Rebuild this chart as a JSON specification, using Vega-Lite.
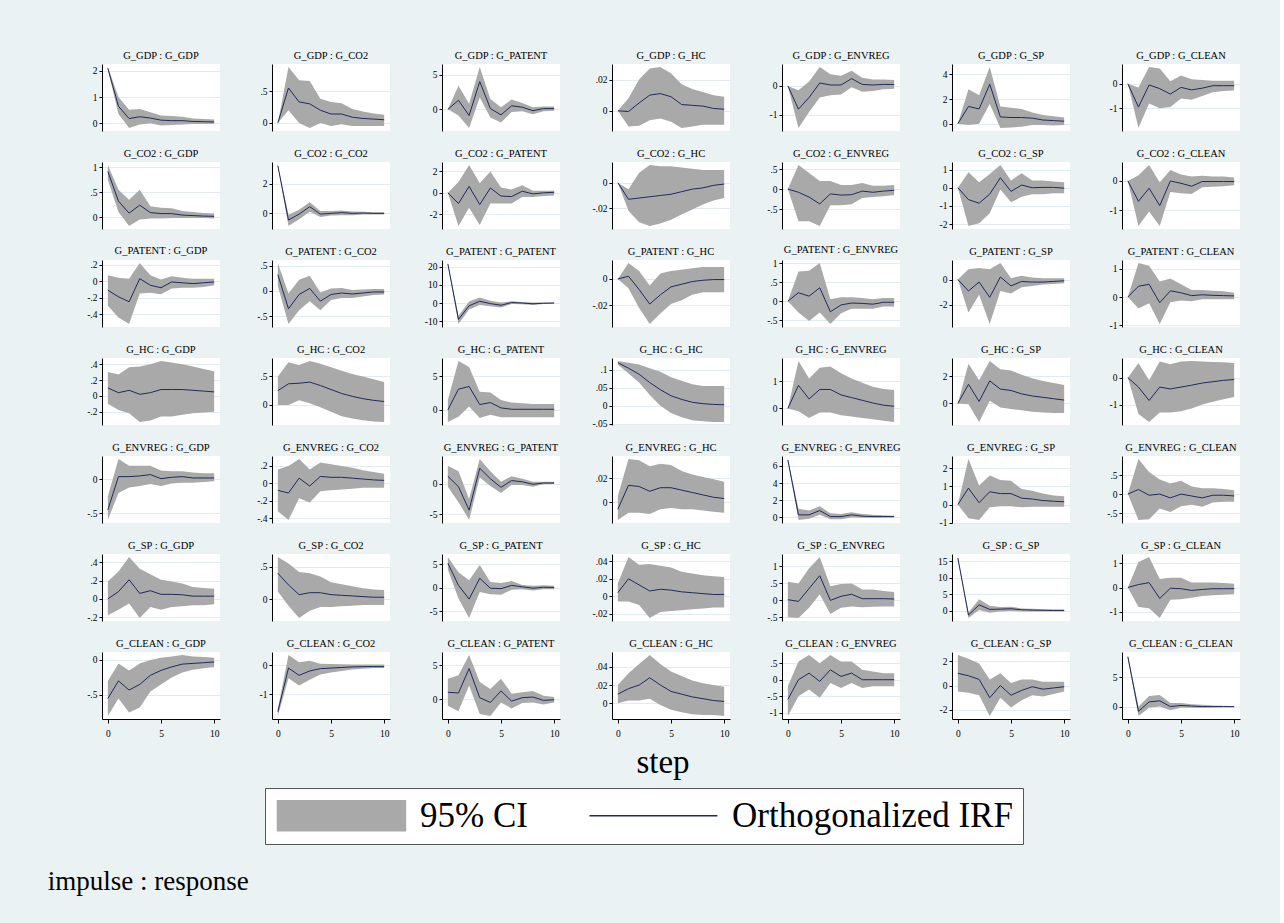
{
"$schema": "https://vega.github.io/schema/vega-lite/v6.json",
"background": "#eaf2f3",
"padding": {"left": 47, "top": 50, "right": 40, "bottom": 35},
"bounds": "flush",
"data": {"values": [
{"panel":"G_GDP : G_GDP","step":0,"irf":2.1,"lo":2.05,"hi":2.15},
{"panel":"G_GDP : G_GDP","step":1,"irf":0.65,"lo":0.35,"hi":1.0},
{"panel":"G_GDP : G_GDP","step":2,"irf":0.18,"lo":-0.18,"hi":0.52},
{"panel":"G_GDP : G_GDP","step":3,"irf":0.25,"lo":-0.05,"hi":0.55},
{"panel":"G_GDP : G_GDP","step":4,"irf":0.2,"lo":0.0,"hi":0.42},
{"panel":"G_GDP : G_GDP","step":5,"irf":0.12,"lo":-0.08,"hi":0.3},
{"panel":"G_GDP : G_GDP","step":6,"irf":0.1,"lo":-0.07,"hi":0.28},
{"panel":"G_GDP : G_GDP","step":7,"irf":0.1,"lo":-0.05,"hi":0.25},
{"panel":"G_GDP : G_GDP","step":8,"irf":0.07,"lo":-0.03,"hi":0.18},
{"panel":"G_GDP : G_GDP","step":9,"irf":0.06,"lo":-0.03,"hi":0.16},
{"panel":"G_GDP : G_GDP","step":10,"irf":0.05,"lo":-0.02,"hi":0.14},
{"panel":"G_GDP : G_CO2","step":0,"irf":0,"lo":0,"hi":0},
{"panel":"G_GDP : G_CO2","step":1,"irf":0.55,"lo":0.2,"hi":0.88},
{"panel":"G_GDP : G_CO2","step":2,"irf":0.33,"lo":0.0,"hi":0.67},
{"panel":"G_GDP : G_CO2","step":3,"irf":0.3,"lo":-0.08,"hi":0.66},
{"panel":"G_GDP : G_CO2","step":4,"irf":0.2,"lo":0.0,"hi":0.38},
{"panel":"G_GDP : G_CO2","step":5,"irf":0.14,"lo":-0.05,"hi":0.33},
{"panel":"G_GDP : G_CO2","step":6,"irf":0.14,"lo":-0.02,"hi":0.31},
{"panel":"G_GDP : G_CO2","step":7,"irf":0.09,"lo":-0.05,"hi":0.22},
{"panel":"G_GDP : G_CO2","step":8,"irf":0.07,"lo":-0.05,"hi":0.18},
{"panel":"G_GDP : G_CO2","step":9,"irf":0.06,"lo":-0.05,"hi":0.15},
{"panel":"G_GDP : G_CO2","step":10,"irf":0.05,"lo":-0.05,"hi":0.13},
{"panel":"G_GDP : G_PATENT","step":0,"irf":0,"lo":0,"hi":0},
{"panel":"G_GDP : G_PATENT","step":1,"irf":1.3,"lo":-0.9,"hi":3.4},
{"panel":"G_GDP : G_PATENT","step":2,"irf":-0.9,"lo":-2.7,"hi":0.8},
{"panel":"G_GDP : G_PATENT","step":3,"irf":4.0,"lo":1.7,"hi":6.1},
{"panel":"G_GDP : G_PATENT","step":4,"irf":0.1,"lo":-1.2,"hi":1.5},
{"panel":"G_GDP : G_PATENT","step":5,"irf":-0.8,"lo":-1.9,"hi":0.3},
{"panel":"G_GDP : G_PATENT","step":6,"irf":0.5,"lo":-0.4,"hi":1.4},
{"panel":"G_GDP : G_PATENT","step":7,"irf":0.3,"lo":-0.3,"hi":0.9},
{"panel":"G_GDP : G_PATENT","step":8,"irf":-0.2,"lo":-0.7,"hi":0.3},
{"panel":"G_GDP : G_PATENT","step":9,"irf":0.1,"lo":-0.3,"hi":0.4},
{"panel":"G_GDP : G_PATENT","step":10,"irf":0.1,"lo":-0.2,"hi":0.4},
{"panel":"G_GDP : G_HC","step":0,"irf":0,"lo":0,"hi":0},
{"panel":"G_GDP : G_HC","step":1,"irf":-0.0005,"lo":-0.01,"hi":0.008},
{"panel":"G_GDP : G_HC","step":2,"irf":0.005,"lo":-0.0095,"hi":0.02},
{"panel":"G_GDP : G_HC","step":3,"irf":0.01,"lo":-0.006,"hi":0.027},
{"panel":"G_GDP : G_HC","step":4,"irf":0.011,"lo":-0.005,"hi":0.028},
{"panel":"G_GDP : G_HC","step":5,"irf":0.009,"lo":-0.007,"hi":0.024},
{"panel":"G_GDP : G_HC","step":6,"irf":0.004,"lo":-0.011,"hi":0.017},
{"panel":"G_GDP : G_HC","step":7,"irf":0.0035,"lo":-0.01,"hi":0.014},
{"panel":"G_GDP : G_HC","step":8,"irf":0.003,"lo":-0.009,"hi":0.012},
{"panel":"G_GDP : G_HC","step":9,"irf":0.0015,"lo":-0.009,"hi":0.01},
{"panel":"G_GDP : G_HC","step":10,"irf":0.001,"lo":-0.009,"hi":0.009},
{"panel":"G_GDP : G_ENVREG","step":0,"irf":0,"lo":0,"hi":0},
{"panel":"G_GDP : G_ENVREG","step":1,"irf":-0.8,"lo":-1.45,"hi":-0.15},
{"panel":"G_GDP : G_ENVREG","step":2,"irf":-0.4,"lo":-0.9,"hi":0.15},
{"panel":"G_GDP : G_ENVREG","step":3,"irf":0.1,"lo":-0.4,"hi":0.65},
{"panel":"G_GDP : G_ENVREG","step":4,"irf":0.03,"lo":-0.32,"hi":0.4},
{"panel":"G_GDP : G_ENVREG","step":5,"irf":0.03,"lo":-0.3,"hi":0.35},
{"panel":"G_GDP : G_ENVREG","step":6,"irf":0.25,"lo":-0.05,"hi":0.52},
{"panel":"G_GDP : G_ENVREG","step":7,"irf":0.05,"lo":-0.2,"hi":0.28},
{"panel":"G_GDP : G_ENVREG","step":8,"irf":0.03,"lo":-0.18,"hi":0.22},
{"panel":"G_GDP : G_ENVREG","step":9,"irf":0.05,"lo":-0.12,"hi":0.22},
{"panel":"G_GDP : G_ENVREG","step":10,"irf":0.05,"lo":-0.1,"hi":0.2},
{"panel":"G_GDP : G_SP","step":0,"irf":0,"lo":0,"hi":0},
{"panel":"G_GDP : G_SP","step":1,"irf":1.4,"lo":-0.1,"hi":2.8},
{"panel":"G_GDP : G_SP","step":2,"irf":1.2,"lo":0.0,"hi":2.3},
{"panel":"G_GDP : G_SP","step":3,"irf":3.2,"lo":1.6,"hi":4.6},
{"panel":"G_GDP : G_SP","step":4,"irf":0.55,"lo":-0.35,"hi":1.4},
{"panel":"G_GDP : G_SP","step":5,"irf":0.5,"lo":-0.3,"hi":1.3},
{"panel":"G_GDP : G_SP","step":6,"irf":0.5,"lo":-0.25,"hi":1.2},
{"panel":"G_GDP : G_SP","step":7,"irf":0.45,"lo":-0.1,"hi":0.9},
{"panel":"G_GDP : G_SP","step":8,"irf":0.3,"lo":-0.1,"hi":0.7},
{"panel":"G_GDP : G_SP","step":9,"irf":0.25,"lo":-0.15,"hi":0.6},
{"panel":"G_GDP : G_SP","step":10,"irf":0.2,"lo":-0.1,"hi":0.5},
{"panel":"G_GDP : G_CLEAN","step":0,"irf":0,"lo":0,"hi":0},
{"panel":"G_GDP : G_CLEAN","step":1,"irf":-0.95,"lo":-1.8,"hi":-0.15},
{"panel":"G_GDP : G_CLEAN","step":2,"irf":-0.05,"lo":-0.8,"hi":0.68},
{"panel":"G_GDP : G_CLEAN","step":3,"irf":-0.2,"lo":-1.0,"hi":0.62},
{"panel":"G_GDP : G_CLEAN","step":4,"irf":-0.42,"lo":-0.95,"hi":0.1},
{"panel":"G_GDP : G_CLEAN","step":5,"irf":-0.15,"lo":-0.6,"hi":0.33},
{"panel":"G_GDP : G_CLEAN","step":6,"irf":-0.25,"lo":-0.65,"hi":0.18},
{"panel":"G_GDP : G_CLEAN","step":7,"irf":-0.18,"lo":-0.5,"hi":0.15},
{"panel":"G_GDP : G_CLEAN","step":8,"irf":-0.08,"lo":-0.35,"hi":0.12},
{"panel":"G_GDP : G_CLEAN","step":9,"irf":-0.08,"lo":-0.3,"hi":0.12},
{"panel":"G_GDP : G_CLEAN","step":10,"irf":-0.08,"lo":-0.28,"hi":0.12},
{"panel":"G_CO2 : G_GDP","step":0,"irf":0.92,"lo":0.75,"hi":1.05},
{"panel":"G_CO2 : G_GDP","step":1,"irf":0.32,"lo":0.1,"hi":0.55},
{"panel":"G_CO2 : G_GDP","step":2,"irf":0.08,"lo":-0.18,"hi":0.35},
{"panel":"G_CO2 : G_GDP","step":3,"irf":0.24,"lo":-0.05,"hi":0.55},
{"panel":"G_CO2 : G_GDP","step":4,"irf":0.09,"lo":-0.03,"hi":0.22},
{"panel":"G_CO2 : G_GDP","step":5,"irf":0.07,"lo":-0.03,"hi":0.19},
{"panel":"G_CO2 : G_GDP","step":6,"irf":0.07,"lo":-0.02,"hi":0.18},
{"panel":"G_CO2 : G_GDP","step":7,"irf":0.04,"lo":-0.02,"hi":0.12},
{"panel":"G_CO2 : G_GDP","step":8,"irf":0.03,"lo":-0.02,"hi":0.1},
{"panel":"G_CO2 : G_GDP","step":9,"irf":0.02,"lo":-0.02,"hi":0.08},
{"panel":"G_CO2 : G_GDP","step":10,"irf":0.015,"lo":-0.03,"hi":0.07},
{"panel":"G_CO2 : G_CO2","step":0,"irf":3.2,"lo":3.15,"hi":3.25},
{"panel":"G_CO2 : G_CO2","step":1,"irf":-0.45,"lo":-0.85,"hi":-0.1},
{"panel":"G_CO2 : G_CO2","step":2,"irf":-0.05,"lo":-0.4,"hi":0.25},
{"panel":"G_CO2 : G_CO2","step":3,"irf":0.45,"lo":0.1,"hi":0.75},
{"panel":"G_CO2 : G_CO2","step":4,"irf":-0.05,"lo":-0.25,"hi":0.15},
{"panel":"G_CO2 : G_CO2","step":5,"irf":0.0,"lo":-0.15,"hi":0.15},
{"panel":"G_CO2 : G_CO2","step":6,"irf":0.05,"lo":-0.12,"hi":0.2},
{"panel":"G_CO2 : G_CO2","step":7,"irf":0.0,"lo":-0.12,"hi":0.12},
{"panel":"G_CO2 : G_CO2","step":8,"irf":0.02,"lo":-0.08,"hi":0.1},
{"panel":"G_CO2 : G_CO2","step":9,"irf":0.0,"lo":-0.08,"hi":0.08},
{"panel":"G_CO2 : G_CO2","step":10,"irf":0.0,"lo":-0.07,"hi":0.07},
{"panel":"G_CO2 : G_PATENT","step":0,"irf":0,"lo":0,"hi":0},
{"panel":"G_CO2 : G_PATENT","step":1,"irf":-1.0,"lo":-3.1,"hi":1.0},
{"panel":"G_CO2 : G_PATENT","step":2,"irf":0.6,"lo":-1.4,"hi":2.6},
{"panel":"G_CO2 : G_PATENT","step":3,"irf":-1.1,"lo":-3.0,"hi":0.9},
{"panel":"G_CO2 : G_PATENT","step":4,"irf":0.45,"lo":-1.0,"hi":2.0},
{"panel":"G_CO2 : G_PATENT","step":5,"irf":-0.3,"lo":-1.0,"hi":0.5},
{"panel":"G_CO2 : G_PATENT","step":6,"irf":-0.35,"lo":-1.0,"hi":0.3},
{"panel":"G_CO2 : G_PATENT","step":7,"irf":0.15,"lo":-0.4,"hi":0.7},
{"panel":"G_CO2 : G_PATENT","step":8,"irf":-0.1,"lo":-0.4,"hi":0.2},
{"panel":"G_CO2 : G_PATENT","step":9,"irf":0.0,"lo":-0.3,"hi":0.2},
{"panel":"G_CO2 : G_PATENT","step":10,"irf":0.05,"lo":-0.25,"hi":0.2},
{"panel":"G_CO2 : G_HC","step":0,"irf":0,"lo":0,"hi":0},
{"panel":"G_CO2 : G_HC","step":1,"irf":-0.013,"lo":-0.022,"hi":-0.005},
{"panel":"G_CO2 : G_HC","step":2,"irf":-0.012,"lo":-0.031,"hi":0.008},
{"panel":"G_CO2 : G_HC","step":3,"irf":-0.011,"lo":-0.034,"hi":0.014},
{"panel":"G_CO2 : G_HC","step":4,"irf":-0.01,"lo":-0.032,"hi":0.013},
{"panel":"G_CO2 : G_HC","step":5,"irf":-0.009,"lo":-0.029,"hi":0.013},
{"panel":"G_CO2 : G_HC","step":6,"irf":-0.007,"lo":-0.025,"hi":0.012},
{"panel":"G_CO2 : G_HC","step":7,"irf":-0.005,"lo":-0.021,"hi":0.011},
{"panel":"G_CO2 : G_HC","step":8,"irf":-0.004,"lo":-0.017,"hi":0.01},
{"panel":"G_CO2 : G_HC","step":9,"irf":-0.002,"lo":-0.014,"hi":0.01},
{"panel":"G_CO2 : G_HC","step":10,"irf":-0.001,"lo":-0.012,"hi":0.01},
{"panel":"G_CO2 : G_ENVREG","step":0,"irf":0,"lo":0,"hi":0},
{"panel":"G_CO2 : G_ENVREG","step":1,"irf":-0.08,"lo":-0.8,"hi":0.6},
{"panel":"G_CO2 : G_ENVREG","step":2,"irf":-0.2,"lo":-0.8,"hi":0.4},
{"panel":"G_CO2 : G_ENVREG","step":3,"irf":-0.37,"lo":-0.92,"hi":0.2},
{"panel":"G_CO2 : G_ENVREG","step":4,"irf":-0.12,"lo":-0.4,"hi":0.2},
{"panel":"G_CO2 : G_ENVREG","step":5,"irf":-0.15,"lo":-0.4,"hi":0.1},
{"panel":"G_CO2 : G_ENVREG","step":6,"irf":-0.14,"lo":-0.38,"hi":0.1},
{"panel":"G_CO2 : G_ENVREG","step":7,"irf":-0.05,"lo":-0.22,"hi":0.15},
{"panel":"G_CO2 : G_ENVREG","step":8,"irf":-0.08,"lo":-0.2,"hi":0.08},
{"panel":"G_CO2 : G_ENVREG","step":9,"irf":-0.05,"lo":-0.18,"hi":0.08},
{"panel":"G_CO2 : G_ENVREG","step":10,"irf":-0.03,"lo":-0.15,"hi":0.1},
{"panel":"G_CO2 : G_SP","step":0,"irf":0,"lo":0,"hi":0},
{"panel":"G_CO2 : G_SP","step":1,"irf":-0.65,"lo":-2.1,"hi":0.85},
{"panel":"G_CO2 : G_SP","step":2,"irf":-0.85,"lo":-1.95,"hi":0.3},
{"panel":"G_CO2 : G_SP","step":3,"irf":-0.35,"lo":-1.4,"hi":0.75},
{"panel":"G_CO2 : G_SP","step":4,"irf":0.55,"lo":-0.1,"hi":1.25},
{"panel":"G_CO2 : G_SP","step":5,"irf":-0.2,"lo":-0.8,"hi":0.4},
{"panel":"G_CO2 : G_SP","step":6,"irf":0.15,"lo":-0.5,"hi":0.8},
{"panel":"G_CO2 : G_SP","step":7,"irf":0.0,"lo":-0.35,"hi":0.4},
{"panel":"G_CO2 : G_SP","step":8,"irf":0.02,"lo":-0.35,"hi":0.4},
{"panel":"G_CO2 : G_SP","step":9,"irf":0.02,"lo":-0.3,"hi":0.35},
{"panel":"G_CO2 : G_SP","step":10,"irf":-0.02,"lo":-0.3,"hi":0.3},
{"panel":"G_CO2 : G_CLEAN","step":0,"irf":0,"lo":0,"hi":0},
{"panel":"G_CO2 : G_CLEAN","step":1,"irf":-0.7,"lo":-1.55,"hi":0.2},
{"panel":"G_CO2 : G_CLEAN","step":2,"irf":-0.25,"lo":-1.05,"hi":0.55},
{"panel":"G_CO2 : G_CLEAN","step":3,"irf":-0.85,"lo":-1.55,"hi":-0.05},
{"panel":"G_CO2 : G_CLEAN","step":4,"irf":0.0,"lo":-0.38,"hi":0.38},
{"panel":"G_CO2 : G_CLEAN","step":5,"irf":-0.08,"lo":-0.42,"hi":0.22},
{"panel":"G_CO2 : G_CLEAN","step":6,"irf":-0.18,"lo":-0.45,"hi":0.15},
{"panel":"G_CO2 : G_CLEAN","step":7,"irf":-0.02,"lo":-0.22,"hi":0.18},
{"panel":"G_CO2 : G_CLEAN","step":8,"irf":-0.02,"lo":-0.2,"hi":0.15},
{"panel":"G_CO2 : G_CLEAN","step":9,"irf":-0.02,"lo":-0.18,"hi":0.15},
{"panel":"G_CO2 : G_CLEAN","step":10,"irf":-0.02,"lo":-0.15,"hi":0.12},
{"panel":"G_PATENT : G_GDP","step":0,"irf":-0.11,"lo":-0.3,"hi":0.07},
{"panel":"G_PATENT : G_GDP","step":1,"irf":-0.19,"lo":-0.44,"hi":0.04},
{"panel":"G_PATENT : G_GDP","step":2,"irf":-0.25,"lo":-0.52,"hi":0.03},
{"panel":"G_PATENT : G_GDP","step":3,"irf":0.03,"lo":-0.15,"hi":0.22},
{"panel":"G_PATENT : G_GDP","step":4,"irf":-0.05,"lo":-0.14,"hi":0.07},
{"panel":"G_PATENT : G_GDP","step":5,"irf":-0.08,"lo":-0.16,"hi":0.02},
{"panel":"G_PATENT : G_GDP","step":6,"irf":-0.01,"lo":-0.09,"hi":0.06},
{"panel":"G_PATENT : G_GDP","step":7,"irf":-0.02,"lo":-0.08,"hi":0.04},
{"panel":"G_PATENT : G_GDP","step":8,"irf":-0.03,"lo":-0.08,"hi":0.03},
{"panel":"G_PATENT : G_GDP","step":9,"irf":-0.02,"lo":-0.07,"hi":0.03},
{"panel":"G_PATENT : G_GDP","step":10,"irf":-0.01,"lo":-0.05,"hi":0.03},
{"panel":"G_PATENT : G_CO2","step":0,"irf":0.32,"lo":0.1,"hi":0.55},
{"panel":"G_PATENT : G_CO2","step":1,"irf":-0.35,"lo":-0.65,"hi":-0.05},
{"panel":"G_PATENT : G_CO2","step":2,"irf":-0.07,"lo":-0.38,"hi":0.22},
{"panel":"G_PATENT : G_CO2","step":3,"irf":0.05,"lo":-0.2,"hi":0.3},
{"panel":"G_PATENT : G_CO2","step":4,"irf":-0.2,"lo":-0.38,"hi":-0.03},
{"panel":"G_PATENT : G_CO2","step":5,"irf":-0.07,"lo":-0.18,"hi":0.05},
{"panel":"G_PATENT : G_CO2","step":6,"irf":-0.04,"lo":-0.14,"hi":0.06},
{"panel":"G_PATENT : G_CO2","step":7,"irf":-0.06,"lo":-0.14,"hi":0.02},
{"panel":"G_PATENT : G_CO2","step":8,"irf":-0.04,"lo":-0.11,"hi":0.03},
{"panel":"G_PATENT : G_CO2","step":9,"irf":-0.02,"lo":-0.08,"hi":0.04},
{"panel":"G_PATENT : G_CO2","step":10,"irf":-0.02,"lo":-0.07,"hi":0.04},
{"panel":"G_PATENT : G_PATENT","step":0,"irf":21.5,"lo":21,"hi":22},
{"panel":"G_PATENT : G_PATENT","step":1,"irf":-9,"lo":-11.5,"hi":-7},
{"panel":"G_PATENT : G_PATENT","step":2,"irf":-1.5,"lo":-3.5,"hi":0.8},
{"panel":"G_PATENT : G_PATENT","step":3,"irf":1.0,"lo":-1.0,"hi":3.0},
{"panel":"G_PATENT : G_PATENT","step":4,"irf":-0.3,"lo":-1.8,"hi":1.3},
{"panel":"G_PATENT : G_PATENT","step":5,"irf":-1.2,"lo":-2.5,"hi":0.3},
{"panel":"G_PATENT : G_PATENT","step":6,"irf":0.3,"lo":-0.5,"hi":1.0},
{"panel":"G_PATENT : G_PATENT","step":7,"irf":0.0,"lo":-0.6,"hi":0.6},
{"panel":"G_PATENT : G_PATENT","step":8,"irf":-0.4,"lo":-1.0,"hi":0.3},
{"panel":"G_PATENT : G_PATENT","step":9,"irf":-0.1,"lo":-0.5,"hi":0.3},
{"panel":"G_PATENT : G_PATENT","step":10,"irf":0.0,"lo":-0.3,"hi":0.3},
{"panel":"G_PATENT : G_HC","step":0,"irf":0,"lo":0,"hi":0},
{"panel":"G_PATENT : G_HC","step":1,"irf":0.002,"lo":-0.007,"hi":0.012},
{"panel":"G_PATENT : G_HC","step":2,"irf":-0.008,"lo":-0.022,"hi":0.006},
{"panel":"G_PATENT : G_HC","step":3,"irf":-0.019,"lo":-0.034,"hi":-0.005},
{"panel":"G_PATENT : G_HC","step":4,"irf":-0.012,"lo":-0.026,"hi":0.004},
{"panel":"G_PATENT : G_HC","step":5,"irf":-0.006,"lo":-0.019,"hi":0.006},
{"panel":"G_PATENT : G_HC","step":6,"irf":-0.004,"lo":-0.016,"hi":0.007},
{"panel":"G_PATENT : G_HC","step":7,"irf":-0.002,"lo":-0.012,"hi":0.008},
{"panel":"G_PATENT : G_HC","step":8,"irf":-0.001,"lo":-0.01,"hi":0.009},
{"panel":"G_PATENT : G_HC","step":9,"irf":-0.0005,"lo":-0.01,"hi":0.009},
{"panel":"G_PATENT : G_HC","step":10,"irf":-0.0005,"lo":-0.01,"hi":0.009},
{"panel":"G_PATENT : G_ENVREG","step":0,"irf":0,"lo":0,"hi":0},
{"panel":"G_PATENT : G_ENVREG","step":1,"irf":0.22,"lo":-0.3,"hi":0.78},
{"panel":"G_PATENT : G_ENVREG","step":2,"irf":0.13,"lo":-0.52,"hi":0.8},
{"panel":"G_PATENT : G_ENVREG","step":3,"irf":0.35,"lo":-0.3,"hi":1.0},
{"panel":"G_PATENT : G_ENVREG","step":4,"irf":-0.28,"lo":-0.6,"hi":0.05},
{"panel":"G_PATENT : G_ENVREG","step":5,"irf":-0.1,"lo":-0.32,"hi":0.1},
{"panel":"G_PATENT : G_ENVREG","step":6,"irf":-0.05,"lo":-0.2,"hi":0.1},
{"panel":"G_PATENT : G_ENVREG","step":7,"irf":-0.06,"lo":-0.2,"hi":0.08},
{"panel":"G_PATENT : G_ENVREG","step":8,"irf":-0.08,"lo":-0.2,"hi":0.05},
{"panel":"G_PATENT : G_ENVREG","step":9,"irf":-0.03,"lo":-0.14,"hi":0.08},
{"panel":"G_PATENT : G_ENVREG","step":10,"irf":-0.03,"lo":-0.14,"hi":0.08},
{"panel":"G_PATENT : G_SP","step":0,"irf":0,"lo":0,"hi":0},
{"panel":"G_PATENT : G_SP","step":1,"irf":-0.9,"lo":-2.6,"hi":0.8},
{"panel":"G_PATENT : G_SP","step":2,"irf":-0.2,"lo":-1.2,"hi":0.9},
{"panel":"G_PATENT : G_SP","step":3,"irf":-1.4,"lo":-3.5,"hi":0.8},
{"panel":"G_PATENT : G_SP","step":4,"irf":0.2,"lo":-0.9,"hi":1.3},
{"panel":"G_PATENT : G_SP","step":5,"irf":-0.5,"lo":-1.1,"hi":0.1},
{"panel":"G_PATENT : G_SP","step":6,"irf":-0.15,"lo":-0.6,"hi":0.3},
{"panel":"G_PATENT : G_SP","step":7,"irf":-0.2,"lo":-0.5,"hi":0.15},
{"panel":"G_PATENT : G_SP","step":8,"irf":-0.2,"lo":-0.4,"hi":0.1},
{"panel":"G_PATENT : G_SP","step":9,"irf":-0.15,"lo":-0.35,"hi":0.1},
{"panel":"G_PATENT : G_SP","step":10,"irf":-0.1,"lo":-0.3,"hi":0.1},
{"panel":"G_PATENT : G_CLEAN","step":0,"irf":0,"lo":0,"hi":0},
{"panel":"G_PATENT : G_CLEAN","step":1,"irf":0.38,"lo":-0.4,"hi":1.2},
{"panel":"G_PATENT : G_CLEAN","step":2,"irf":0.45,"lo":-0.22,"hi":1.1},
{"panel":"G_PATENT : G_CLEAN","step":3,"irf":-0.2,"lo":-0.95,"hi":0.55},
{"panel":"G_PATENT : G_CLEAN","step":4,"irf":0.22,"lo":-0.18,"hi":0.65},
{"panel":"G_PATENT : G_CLEAN","step":5,"irf":0.15,"lo":-0.12,"hi":0.45},
{"panel":"G_PATENT : G_CLEAN","step":6,"irf":0.05,"lo":-0.15,"hi":0.25},
{"panel":"G_PATENT : G_CLEAN","step":7,"irf":0.08,"lo":-0.08,"hi":0.25},
{"panel":"G_PATENT : G_CLEAN","step":8,"irf":0.06,"lo":-0.08,"hi":0.22},
{"panel":"G_PATENT : G_CLEAN","step":9,"irf":0.05,"lo":-0.08,"hi":0.2},
{"panel":"G_PATENT : G_CLEAN","step":10,"irf":0.04,"lo":-0.08,"hi":0.15},
{"panel":"G_HC : G_GDP","step":0,"irf":0.1,"lo":-0.1,"hi":0.3},
{"panel":"G_HC : G_GDP","step":1,"irf":0.04,"lo":-0.18,"hi":0.27},
{"panel":"G_HC : G_GDP","step":2,"irf":0.07,"lo":-0.22,"hi":0.36},
{"panel":"G_HC : G_GDP","step":3,"irf":0.02,"lo":-0.33,"hi":0.37},
{"panel":"G_HC : G_GDP","step":4,"irf":0.04,"lo":-0.31,"hi":0.4},
{"panel":"G_HC : G_GDP","step":5,"irf":0.08,"lo":-0.26,"hi":0.44},
{"panel":"G_HC : G_GDP","step":6,"irf":0.08,"lo":-0.26,"hi":0.42},
{"panel":"G_HC : G_GDP","step":7,"irf":0.08,"lo":-0.24,"hi":0.4},
{"panel":"G_HC : G_GDP","step":8,"irf":0.07,"lo":-0.22,"hi":0.37},
{"panel":"G_HC : G_GDP","step":9,"irf":0.06,"lo":-0.21,"hi":0.34},
{"panel":"G_HC : G_GDP","step":10,"irf":0.05,"lo":-0.2,"hi":0.31},
{"panel":"G_HC : G_CO2","step":0,"irf":0.25,"lo":0.0,"hi":0.5},
{"panel":"G_HC : G_CO2","step":1,"irf":0.37,"lo":0.0,"hi":0.75},
{"panel":"G_HC : G_CO2","step":2,"irf":0.38,"lo":0.08,"hi":0.7},
{"panel":"G_HC : G_CO2","step":3,"irf":0.4,"lo":0.03,"hi":0.77},
{"panel":"G_HC : G_CO2","step":4,"irf":0.34,"lo":-0.04,"hi":0.72},
{"panel":"G_HC : G_CO2","step":5,"irf":0.27,"lo":-0.12,"hi":0.66},
{"panel":"G_HC : G_CO2","step":6,"irf":0.2,"lo":-0.2,"hi":0.6},
{"panel":"G_HC : G_CO2","step":7,"irf":0.15,"lo":-0.24,"hi":0.54},
{"panel":"G_HC : G_CO2","step":8,"irf":0.11,"lo":-0.27,"hi":0.5},
{"panel":"G_HC : G_CO2","step":9,"irf":0.08,"lo":-0.29,"hi":0.45},
{"panel":"G_HC : G_CO2","step":10,"irf":0.06,"lo":-0.3,"hi":0.4},
{"panel":"G_HC : G_PATENT","step":0,"irf":0,"lo":-1.8,"hi":1.5},
{"panel":"G_HC : G_PATENT","step":1,"irf":3.1,"lo":-1.0,"hi":7.3},
{"panel":"G_HC : G_PATENT","step":2,"irf":3.5,"lo":0.5,"hi":6.4},
{"panel":"G_HC : G_PATENT","step":3,"irf":0.8,"lo":-1.2,"hi":2.7},
{"panel":"G_HC : G_PATENT","step":4,"irf":1.1,"lo":-0.7,"hi":2.6},
{"panel":"G_HC : G_PATENT","step":5,"irf":0.3,"lo":-1.1,"hi":1.5},
{"panel":"G_HC : G_PATENT","step":6,"irf":0.1,"lo":-1.1,"hi":1.1},
{"panel":"G_HC : G_PATENT","step":7,"irf":0.1,"lo":-1.1,"hi":1.0},
{"panel":"G_HC : G_PATENT","step":8,"irf":0.1,"lo":-1.1,"hi":0.9},
{"panel":"G_HC : G_PATENT","step":9,"irf":0.1,"lo":-1.1,"hi":0.9},
{"panel":"G_HC : G_PATENT","step":10,"irf":0.1,"lo":-1.1,"hi":0.9},
{"panel":"G_HC : G_HC","step":0,"irf":0.12,"lo":0.115,"hi":0.125},
{"panel":"G_HC : G_HC","step":1,"irf":0.105,"lo":0.09,"hi":0.12},
{"panel":"G_HC : G_HC","step":2,"irf":0.088,"lo":0.065,"hi":0.115},
{"panel":"G_HC : G_HC","step":3,"irf":0.065,"lo":0.03,"hi":0.105},
{"panel":"G_HC : G_HC","step":4,"irf":0.045,"lo":0.0,"hi":0.095},
{"panel":"G_HC : G_HC","step":5,"irf":0.028,"lo":-0.02,"hi":0.08},
{"panel":"G_HC : G_HC","step":6,"irf":0.018,"lo":-0.032,"hi":0.07},
{"panel":"G_HC : G_HC","step":7,"irf":0.01,"lo":-0.04,"hi":0.06},
{"panel":"G_HC : G_HC","step":8,"irf":0.006,"lo":-0.043,"hi":0.055},
{"panel":"G_HC : G_HC","step":9,"irf":0.004,"lo":-0.045,"hi":0.055},
{"panel":"G_HC : G_HC","step":10,"irf":0.003,"lo":-0.045,"hi":0.055},
{"panel":"G_HC : G_ENVREG","step":0,"irf":0,"lo":0,"hi":0},
{"panel":"G_HC : G_ENVREG","step":1,"irf":0.85,"lo":-0.1,"hi":1.75},
{"panel":"G_HC : G_ENVREG","step":2,"irf":0.35,"lo":-0.35,"hi":1.1},
{"panel":"G_HC : G_ENVREG","step":3,"irf":0.7,"lo":-0.15,"hi":1.5},
{"panel":"G_HC : G_ENVREG","step":4,"irf":0.7,"lo":-0.15,"hi":1.55},
{"panel":"G_HC : G_ENVREG","step":5,"irf":0.5,"lo":-0.25,"hi":1.3},
{"panel":"G_HC : G_ENVREG","step":6,"irf":0.4,"lo":-0.3,"hi":1.1},
{"panel":"G_HC : G_ENVREG","step":7,"irf":0.3,"lo":-0.35,"hi":0.95},
{"panel":"G_HC : G_ENVREG","step":8,"irf":0.2,"lo":-0.4,"hi":0.8},
{"panel":"G_HC : G_ENVREG","step":9,"irf":0.12,"lo":-0.45,"hi":0.72},
{"panel":"G_HC : G_ENVREG","step":10,"irf":0.08,"lo":-0.5,"hi":0.68},
{"panel":"G_HC : G_SP","step":0,"irf":0,"lo":0,"hi":0},
{"panel":"G_HC : G_SP","step":1,"irf":1.4,"lo":-0.05,"hi":2.9},
{"panel":"G_HC : G_SP","step":2,"irf":0.15,"lo":-1.35,"hi":1.7},
{"panel":"G_HC : G_SP","step":3,"irf":1.65,"lo":0.2,"hi":3.1},
{"panel":"G_HC : G_SP","step":4,"irf":1.05,"lo":-0.3,"hi":2.5},
{"panel":"G_HC : G_SP","step":5,"irf":0.95,"lo":-0.4,"hi":2.4},
{"panel":"G_HC : G_SP","step":6,"irf":0.7,"lo":-0.5,"hi":2.1},
{"panel":"G_HC : G_SP","step":7,"irf":0.55,"lo":-0.6,"hi":1.85},
{"panel":"G_HC : G_SP","step":8,"irf":0.45,"lo":-0.65,"hi":1.65},
{"panel":"G_HC : G_SP","step":9,"irf":0.35,"lo":-0.7,"hi":1.5},
{"panel":"G_HC : G_SP","step":10,"irf":0.25,"lo":-0.7,"hi":1.35},
{"panel":"G_HC : G_CLEAN","step":0,"irf":0,"lo":0,"hi":0},
{"panel":"G_HC : G_CLEAN","step":1,"irf":-0.35,"lo":-1.35,"hi":0.55},
{"panel":"G_HC : G_CLEAN","step":2,"irf":-0.85,"lo":-1.65,"hi":-0.1},
{"panel":"G_HC : G_CLEAN","step":3,"irf":-0.35,"lo":-1.3,"hi":0.6},
{"panel":"G_HC : G_CLEAN","step":4,"irf":-0.42,"lo":-1.3,"hi":0.5},
{"panel":"G_HC : G_CLEAN","step":5,"irf":-0.35,"lo":-1.25,"hi":0.6},
{"panel":"G_HC : G_CLEAN","step":6,"irf":-0.28,"lo":-1.15,"hi":0.62},
{"panel":"G_HC : G_CLEAN","step":7,"irf":-0.2,"lo":-1.0,"hi":0.6},
{"panel":"G_HC : G_CLEAN","step":8,"irf":-0.15,"lo":-0.9,"hi":0.58},
{"panel":"G_HC : G_CLEAN","step":9,"irf":-0.1,"lo":-0.8,"hi":0.57},
{"panel":"G_HC : G_CLEAN","step":10,"irf":-0.07,"lo":-0.72,"hi":0.55},
{"panel":"G_ENVREG : G_GDP","step":0,"irf":-0.45,"lo":-0.6,"hi":-0.25},
{"panel":"G_ENVREG : G_GDP","step":1,"irf":0.04,"lo":-0.2,"hi":0.3},
{"panel":"G_ENVREG : G_GDP","step":2,"irf":0.04,"lo":-0.12,"hi":0.2},
{"panel":"G_ENVREG : G_GDP","step":3,"irf":0.05,"lo":-0.1,"hi":0.2},
{"panel":"G_ENVREG : G_GDP","step":4,"irf":0.07,"lo":-0.07,"hi":0.2},
{"panel":"G_ENVREG : G_GDP","step":5,"irf":0.01,"lo":-0.1,"hi":0.13},
{"panel":"G_ENVREG : G_GDP","step":6,"irf":0.03,"lo":-0.06,"hi":0.12},
{"panel":"G_ENVREG : G_GDP","step":7,"irf":0.04,"lo":-0.05,"hi":0.12},
{"panel":"G_ENVREG : G_GDP","step":8,"irf":0.02,"lo":-0.05,"hi":0.1},
{"panel":"G_ENVREG : G_GDP","step":9,"irf":0.02,"lo":-0.04,"hi":0.09},
{"panel":"G_ENVREG : G_GDP","step":10,"irf":0.02,"lo":-0.03,"hi":0.09},
{"panel":"G_ENVREG : G_CO2","step":0,"irf":-0.08,"lo":-0.32,"hi":0.16},
{"panel":"G_ENVREG : G_CO2","step":1,"irf":-0.11,"lo":-0.42,"hi":0.2},
{"panel":"G_ENVREG : G_CO2","step":2,"irf":0.06,"lo":-0.17,"hi":0.28},
{"panel":"G_ENVREG : G_CO2","step":3,"irf":-0.03,"lo":-0.22,"hi":0.16},
{"panel":"G_ENVREG : G_CO2","step":4,"irf":0.08,"lo":-0.09,"hi":0.24},
{"panel":"G_ENVREG : G_CO2","step":5,"irf":0.07,"lo":-0.08,"hi":0.22},
{"panel":"G_ENVREG : G_CO2","step":6,"irf":0.07,"lo":-0.07,"hi":0.2},
{"panel":"G_ENVREG : G_CO2","step":7,"irf":0.06,"lo":-0.06,"hi":0.18},
{"panel":"G_ENVREG : G_CO2","step":8,"irf":0.05,"lo":-0.05,"hi":0.15},
{"panel":"G_ENVREG : G_CO2","step":9,"irf":0.04,"lo":-0.05,"hi":0.13},
{"panel":"G_ENVREG : G_CO2","step":10,"irf":0.035,"lo":-0.05,"hi":0.11},
{"panel":"G_ENVREG : G_PATENT","step":0,"irf":1.2,"lo":-0.5,"hi":2.9},
{"panel":"G_ENVREG : G_PATENT","step":1,"irf":-0.5,"lo":-3.0,"hi":2.0},
{"panel":"G_ENVREG : G_PATENT","step":2,"irf":-4.3,"lo":-5.9,"hi":-2.5},
{"panel":"G_ENVREG : G_PATENT","step":3,"irf":2.5,"lo":1.0,"hi":4.0},
{"panel":"G_ENVREG : G_PATENT","step":4,"irf":0.8,"lo":-0.4,"hi":2.0},
{"panel":"G_ENVREG : G_PATENT","step":5,"irf":-0.6,"lo":-1.5,"hi":0.3},
{"panel":"G_ENVREG : G_PATENT","step":6,"irf":0.5,"lo":-0.2,"hi":1.2},
{"panel":"G_ENVREG : G_PATENT","step":7,"irf":0.3,"lo":-0.2,"hi":0.8},
{"panel":"G_ENVREG : G_PATENT","step":8,"irf":-0.1,"lo":-0.5,"hi":0.3},
{"panel":"G_ENVREG : G_PATENT","step":9,"irf":0.1,"lo":-0.1,"hi":0.3},
{"panel":"G_ENVREG : G_PATENT","step":10,"irf":0.1,"lo":-0.05,"hi":0.3},
{"panel":"G_ENVREG : G_HC","step":0,"irf":-0.006,"lo":-0.015,"hi":0.005},
{"panel":"G_ENVREG : G_HC","step":1,"irf":0.014,"lo":-0.009,"hi":0.036},
{"panel":"G_ENVREG : G_HC","step":2,"irf":0.013,"lo":-0.009,"hi":0.035},
{"panel":"G_ENVREG : G_HC","step":3,"irf":0.009,"lo":-0.01,"hi":0.03},
{"panel":"G_ENVREG : G_HC","step":4,"irf":0.012,"lo":-0.006,"hi":0.032},
{"panel":"G_ENVREG : G_HC","step":5,"irf":0.012,"lo":-0.005,"hi":0.031},
{"panel":"G_ENVREG : G_HC","step":6,"irf":0.01,"lo":-0.006,"hi":0.026},
{"panel":"G_ENVREG : G_HC","step":7,"irf":0.008,"lo":-0.006,"hi":0.023},
{"panel":"G_ENVREG : G_HC","step":8,"irf":0.006,"lo":-0.007,"hi":0.021},
{"panel":"G_ENVREG : G_HC","step":9,"irf":0.004,"lo":-0.008,"hi":0.019},
{"panel":"G_ENVREG : G_HC","step":10,"irf":0.003,"lo":-0.009,"hi":0.017},
{"panel":"G_ENVREG : G_ENVREG","step":0,"irf":6.7,"lo":6.6,"hi":6.8},
{"panel":"G_ENVREG : G_ENVREG","step":1,"irf":0.3,"lo":-0.3,"hi":1.0},
{"panel":"G_ENVREG : G_ENVREG","step":2,"irf":0.3,"lo":-0.15,"hi":0.8},
{"panel":"G_ENVREG : G_ENVREG","step":3,"irf":0.8,"lo":0.3,"hi":1.3},
{"panel":"G_ENVREG : G_ENVREG","step":4,"irf":0.1,"lo":-0.2,"hi":0.5},
{"panel":"G_ENVREG : G_ENVREG","step":5,"irf":0.1,"lo":-0.2,"hi":0.4},
{"panel":"G_ENVREG : G_ENVREG","step":6,"irf":0.3,"lo":0.0,"hi":0.6},
{"panel":"G_ENVREG : G_ENVREG","step":7,"irf":0.15,"lo":-0.05,"hi":0.4},
{"panel":"G_ENVREG : G_ENVREG","step":8,"irf":0.1,"lo":-0.05,"hi":0.3},
{"panel":"G_ENVREG : G_ENVREG","step":9,"irf":0.1,"lo":-0.03,"hi":0.25},
{"panel":"G_ENVREG : G_ENVREG","step":10,"irf":0.1,"lo":-0.02,"hi":0.2},
{"panel":"G_ENVREG : G_SP","step":0,"irf":0,"lo":0,"hi":0},
{"panel":"G_ENVREG : G_SP","step":1,"irf":0.9,"lo":-0.75,"hi":2.5},
{"panel":"G_ENVREG : G_SP","step":2,"irf":0.1,"lo":-0.85,"hi":1.05},
{"panel":"G_ENVREG : G_SP","step":3,"irf":0.7,"lo":-0.15,"hi":1.6},
{"panel":"G_ENVREG : G_SP","step":4,"irf":0.6,"lo":-0.1,"hi":1.35},
{"panel":"G_ENVREG : G_SP","step":5,"irf":0.6,"lo":-0.1,"hi":1.3},
{"panel":"G_ENVREG : G_SP","step":6,"irf":0.35,"lo":-0.15,"hi":0.85},
{"panel":"G_ENVREG : G_SP","step":7,"irf":0.3,"lo":-0.12,"hi":0.75},
{"panel":"G_ENVREG : G_SP","step":8,"irf":0.22,"lo":-0.12,"hi":0.6},
{"panel":"G_ENVREG : G_SP","step":9,"irf":0.18,"lo":-0.12,"hi":0.5},
{"panel":"G_ENVREG : G_SP","step":10,"irf":0.15,"lo":-0.12,"hi":0.45},
{"panel":"G_ENVREG : G_CLEAN","step":0,"irf":0,"lo":0,"hi":0},
{"panel":"G_ENVREG : G_CLEAN","step":1,"irf":0.12,"lo":-0.68,"hi":0.92},
{"panel":"G_ENVREG : G_CLEAN","step":2,"irf":-0.03,"lo":-0.66,"hi":0.58},
{"panel":"G_ENVREG : G_CLEAN","step":3,"irf":0.0,"lo":-0.38,"hi":0.38},
{"panel":"G_ENVREG : G_CLEAN","step":4,"irf":-0.1,"lo":-0.47,"hi":0.28},
{"panel":"G_ENVREG : G_CLEAN","step":5,"irf":0.0,"lo":-0.32,"hi":0.35},
{"panel":"G_ENVREG : G_CLEAN","step":6,"irf":-0.05,"lo":-0.28,"hi":0.2},
{"panel":"G_ENVREG : G_CLEAN","step":7,"irf":-0.1,"lo":-0.33,"hi":0.15},
{"panel":"G_ENVREG : G_CLEAN","step":8,"irf":-0.03,"lo":-0.22,"hi":0.15},
{"panel":"G_ENVREG : G_CLEAN","step":9,"irf":-0.03,"lo":-0.2,"hi":0.13},
{"panel":"G_ENVREG : G_CLEAN","step":10,"irf":-0.05,"lo":-0.2,"hi":0.1},
{"panel":"G_SP : G_GDP","step":0,"irf":0.0,"lo":-0.18,"hi":0.19},
{"panel":"G_SP : G_GDP","step":1,"irf":0.08,"lo":-0.12,"hi":0.3},
{"panel":"G_SP : G_GDP","step":2,"irf":0.21,"lo":-0.05,"hi":0.46},
{"panel":"G_SP : G_GDP","step":3,"irf":0.06,"lo":-0.21,"hi":0.33},
{"panel":"G_SP : G_GDP","step":4,"irf":0.09,"lo":-0.09,"hi":0.27},
{"panel":"G_SP : G_GDP","step":5,"irf":0.05,"lo":-0.12,"hi":0.21},
{"panel":"G_SP : G_GDP","step":6,"irf":0.05,"lo":-0.09,"hi":0.19},
{"panel":"G_SP : G_GDP","step":7,"irf":0.045,"lo":-0.08,"hi":0.17},
{"panel":"G_SP : G_GDP","step":8,"irf":0.03,"lo":-0.07,"hi":0.13},
{"panel":"G_SP : G_GDP","step":9,"irf":0.03,"lo":-0.07,"hi":0.12},
{"panel":"G_SP : G_GDP","step":10,"irf":0.03,"lo":-0.06,"hi":0.11},
{"panel":"G_SP : G_CO2","step":0,"irf":0.4,"lo":0.12,"hi":0.65},
{"panel":"G_SP : G_CO2","step":1,"irf":0.22,"lo":-0.1,"hi":0.55},
{"panel":"G_SP : G_CO2","step":2,"irf":0.07,"lo":-0.29,"hi":0.42},
{"panel":"G_SP : G_CO2","step":3,"irf":0.1,"lo":-0.18,"hi":0.4},
{"panel":"G_SP : G_CO2","step":4,"irf":0.1,"lo":-0.12,"hi":0.35},
{"panel":"G_SP : G_CO2","step":5,"irf":0.07,"lo":-0.12,"hi":0.26},
{"panel":"G_SP : G_CO2","step":6,"irf":0.06,"lo":-0.11,"hi":0.23},
{"panel":"G_SP : G_CO2","step":7,"irf":0.05,"lo":-0.1,"hi":0.2},
{"panel":"G_SP : G_CO2","step":8,"irf":0.04,"lo":-0.09,"hi":0.17},
{"panel":"G_SP : G_CO2","step":9,"irf":0.03,"lo":-0.09,"hi":0.15},
{"panel":"G_SP : G_CO2","step":10,"irf":0.03,"lo":-0.09,"hi":0.14},
{"panel":"G_SP : G_PATENT","step":0,"irf":5.2,"lo":3.8,"hi":6.5},
{"panel":"G_SP : G_PATENT","step":1,"irf":0.5,"lo":-2.3,"hi":3.3},
{"panel":"G_SP : G_PATENT","step":2,"irf":-2.4,"lo":-6.4,"hi":1.6},
{"panel":"G_SP : G_PATENT","step":3,"irf":2.0,"lo":-0.9,"hi":4.8},
{"panel":"G_SP : G_PATENT","step":4,"irf":-0.1,"lo":-1.4,"hi":1.2},
{"panel":"G_SP : G_PATENT","step":5,"irf":-0.2,"lo":-1.5,"hi":1.0},
{"panel":"G_SP : G_PATENT","step":6,"irf":0.5,"lo":-0.4,"hi":1.4},
{"panel":"G_SP : G_PATENT","step":7,"irf":0.2,"lo":-0.3,"hi":0.6},
{"panel":"G_SP : G_PATENT","step":8,"irf":-0.1,"lo":-0.6,"hi":0.4},
{"panel":"G_SP : G_PATENT","step":9,"irf":0.1,"lo":-0.3,"hi":0.5},
{"panel":"G_SP : G_PATENT","step":10,"irf":0.05,"lo":-0.3,"hi":0.4},
{"panel":"G_SP : G_HC","step":0,"irf":0.004,"lo":-0.006,"hi":0.015},
{"panel":"G_SP : G_HC","step":1,"irf":0.02,"lo":-0.006,"hi":0.045},
{"panel":"G_SP : G_HC","step":2,"irf":0.013,"lo":-0.01,"hi":0.036},
{"panel":"G_SP : G_HC","step":3,"irf":0.006,"lo":-0.025,"hi":0.037},
{"panel":"G_SP : G_HC","step":4,"irf":0.008,"lo":-0.018,"hi":0.035},
{"panel":"G_SP : G_HC","step":5,"irf":0.007,"lo":-0.017,"hi":0.033},
{"panel":"G_SP : G_HC","step":6,"irf":0.005,"lo":-0.016,"hi":0.028},
{"panel":"G_SP : G_HC","step":7,"irf":0.004,"lo":-0.015,"hi":0.026},
{"panel":"G_SP : G_HC","step":8,"irf":0.003,"lo":-0.014,"hi":0.024},
{"panel":"G_SP : G_HC","step":9,"irf":0.002,"lo":-0.013,"hi":0.023},
{"panel":"G_SP : G_HC","step":10,"irf":0.002,"lo":-0.013,"hi":0.022},
{"panel":"G_SP : G_ENVREG","step":0,"irf":0.02,"lo":-0.5,"hi":0.55},
{"panel":"G_SP : G_ENVREG","step":1,"irf":-0.03,"lo":-0.52,"hi":0.5},
{"panel":"G_SP : G_ENVREG","step":2,"irf":0.35,"lo":-0.22,"hi":0.95},
{"panel":"G_SP : G_ENVREG","step":3,"irf":0.73,"lo":0.18,"hi":1.28},
{"panel":"G_SP : G_ENVREG","step":4,"irf":0.0,"lo":-0.4,"hi":0.42},
{"panel":"G_SP : G_ENVREG","step":5,"irf":0.12,"lo":-0.22,"hi":0.48},
{"panel":"G_SP : G_ENVREG","step":6,"irf":0.18,"lo":-0.18,"hi":0.5},
{"panel":"G_SP : G_ENVREG","step":7,"irf":0.05,"lo":-0.2,"hi":0.32},
{"panel":"G_SP : G_ENVREG","step":8,"irf":0.05,"lo":-0.19,"hi":0.32},
{"panel":"G_SP : G_ENVREG","step":9,"irf":0.05,"lo":-0.18,"hi":0.28},
{"panel":"G_SP : G_ENVREG","step":10,"irf":0.04,"lo":-0.18,"hi":0.25},
{"panel":"G_SP : G_SP","step":0,"irf":16,"lo":15.7,"hi":16.3},
{"panel":"G_SP : G_SP","step":1,"irf":-1.3,"lo":-2.2,"hi":-0.5},
{"panel":"G_SP : G_SP","step":2,"irf":1.8,"lo":0.2,"hi":3.5},
{"panel":"G_SP : G_SP","step":3,"irf":0.4,"lo":-0.6,"hi":1.5},
{"panel":"G_SP : G_SP","step":4,"irf":0.5,"lo":-0.2,"hi":1.1},
{"panel":"G_SP : G_SP","step":5,"irf":0.6,"lo":-0.1,"hi":1.2},
{"panel":"G_SP : G_SP","step":6,"irf":0.3,"lo":-0.2,"hi":0.7},
{"panel":"G_SP : G_SP","step":7,"irf":0.2,"lo":-0.2,"hi":0.6},
{"panel":"G_SP : G_SP","step":8,"irf":0.15,"lo":-0.2,"hi":0.45},
{"panel":"G_SP : G_SP","step":9,"irf":0.1,"lo":-0.2,"hi":0.4},
{"panel":"G_SP : G_SP","step":10,"irf":0.1,"lo":-0.2,"hi":0.35},
{"panel":"G_SP : G_CLEAN","step":0,"irf":0,"lo":0,"hi":0},
{"panel":"G_SP : G_CLEAN","step":1,"irf":0.12,"lo":-0.8,"hi":1.05},
{"panel":"G_SP : G_CLEAN","step":2,"irf":0.2,"lo":-0.85,"hi":1.25},
{"panel":"G_SP : G_CLEAN","step":3,"irf":-0.45,"lo":-1.25,"hi":0.35},
{"panel":"G_SP : G_CLEAN","step":4,"irf":-0.03,"lo":-0.5,"hi":0.4},
{"panel":"G_SP : G_CLEAN","step":5,"irf":-0.05,"lo":-0.48,"hi":0.4},
{"panel":"G_SP : G_CLEAN","step":6,"irf":-0.12,"lo":-0.42,"hi":0.2},
{"panel":"G_SP : G_CLEAN","step":7,"irf":-0.08,"lo":-0.35,"hi":0.2},
{"panel":"G_SP : G_CLEAN","step":8,"irf":-0.05,"lo":-0.32,"hi":0.2},
{"panel":"G_SP : G_CLEAN","step":9,"irf":-0.05,"lo":-0.3,"hi":0.18},
{"panel":"G_SP : G_CLEAN","step":10,"irf":-0.05,"lo":-0.28,"hi":0.15},
{"panel":"G_CLEAN : G_GDP","step":0,"irf":-0.55,"lo":-0.8,"hi":-0.3},
{"panel":"G_CLEAN : G_GDP","step":1,"irf":-0.3,"lo":-0.55,"hi":-0.05},
{"panel":"G_CLEAN : G_GDP","step":2,"irf":-0.43,"lo":-0.75,"hi":-0.15},
{"panel":"G_CLEAN : G_GDP","step":3,"irf":-0.35,"lo":-0.68,"hi":-0.05},
{"panel":"G_CLEAN : G_GDP","step":4,"irf":-0.22,"lo":-0.45,"hi":0.0},
{"panel":"G_CLEAN : G_GDP","step":5,"irf":-0.15,"lo":-0.35,"hi":0.03},
{"panel":"G_CLEAN : G_GDP","step":6,"irf":-0.1,"lo":-0.25,"hi":0.05},
{"panel":"G_CLEAN : G_GDP","step":7,"irf":-0.06,"lo":-0.18,"hi":0.07},
{"panel":"G_CLEAN : G_GDP","step":8,"irf":-0.05,"lo":-0.14,"hi":0.05},
{"panel":"G_CLEAN : G_GDP","step":9,"irf":-0.04,"lo":-0.12,"hi":0.04},
{"panel":"G_CLEAN : G_GDP","step":10,"irf":-0.03,"lo":-0.1,"hi":0.03},
{"panel":"G_CLEAN : G_CO2","step":0,"irf":-1.6,"lo":-1.75,"hi":-1.5},
{"panel":"G_CLEAN : G_CO2","step":1,"irf":-0.1,"lo":-0.45,"hi":0.35},
{"panel":"G_CLEAN : G_CO2","step":2,"irf":-0.35,"lo":-0.7,"hi":0.1},
{"panel":"G_CLEAN : G_CO2","step":3,"irf":-0.2,"lo":-0.5,"hi":0.15},
{"panel":"G_CLEAN : G_CO2","step":4,"irf":-0.12,"lo":-0.32,"hi":0.05},
{"panel":"G_CLEAN : G_CO2","step":5,"irf":-0.1,"lo":-0.25,"hi":0.04},
{"panel":"G_CLEAN : G_CO2","step":6,"irf":-0.08,"lo":-0.2,"hi":0.03},
{"panel":"G_CLEAN : G_CO2","step":7,"irf":-0.06,"lo":-0.15,"hi":0.02},
{"panel":"G_CLEAN : G_CO2","step":8,"irf":-0.05,"lo":-0.12,"hi":0.02},
{"panel":"G_CLEAN : G_CO2","step":9,"irf":-0.05,"lo":-0.1,"hi":0.02},
{"panel":"G_CLEAN : G_CO2","step":10,"irf":-0.05,"lo":-0.1,"hi":0.02},
{"panel":"G_CLEAN : G_PATENT","step":0,"irf":1.0,"lo":-1.0,"hi":3.0},
{"panel":"G_CLEAN : G_PATENT","step":1,"irf":0.9,"lo":-1.8,"hi":3.5},
{"panel":"G_CLEAN : G_PATENT","step":2,"irf":4.5,"lo":2.0,"hi":6.5},
{"panel":"G_CLEAN : G_PATENT","step":3,"irf":0.2,"lo":-2.2,"hi":2.5},
{"panel":"G_CLEAN : G_PATENT","step":4,"irf":-0.5,"lo":-2.5,"hi":1.5},
{"panel":"G_CLEAN : G_PATENT","step":5,"irf":1.2,"lo":-0.5,"hi":3.0},
{"panel":"G_CLEAN : G_PATENT","step":6,"irf":-0.3,"lo":-1.4,"hi":0.8},
{"panel":"G_CLEAN : G_PATENT","step":7,"irf":0.2,"lo":-0.6,"hi":1.0},
{"panel":"G_CLEAN : G_PATENT","step":8,"irf":0.3,"lo":-0.5,"hi":1.2},
{"panel":"G_CLEAN : G_PATENT","step":9,"irf":-0.2,"lo":-0.8,"hi":0.5},
{"panel":"G_CLEAN : G_PATENT","step":10,"irf":-0.1,"lo":-0.5,"hi":0.3},
{"panel":"G_CLEAN : G_HC","step":0,"irf":0.01,"lo":0.0,"hi":0.02},
{"panel":"G_CLEAN : G_HC","step":1,"irf":0.016,"lo":0.003,"hi":0.033},
{"panel":"G_CLEAN : G_HC","step":2,"irf":0.02,"lo":0.003,"hi":0.043},
{"panel":"G_CLEAN : G_HC","step":3,"irf":0.028,"lo":0.005,"hi":0.053},
{"panel":"G_CLEAN : G_HC","step":4,"irf":0.02,"lo":-0.002,"hi":0.043},
{"panel":"G_CLEAN : G_HC","step":5,"irf":0.013,"lo":-0.007,"hi":0.035},
{"panel":"G_CLEAN : G_HC","step":6,"irf":0.01,"lo":-0.01,"hi":0.03},
{"panel":"G_CLEAN : G_HC","step":7,"irf":0.007,"lo":-0.012,"hi":0.025},
{"panel":"G_CLEAN : G_HC","step":8,"irf":0.005,"lo":-0.013,"hi":0.022},
{"panel":"G_CLEAN : G_HC","step":9,"irf":0.003,"lo":-0.013,"hi":0.02},
{"panel":"G_CLEAN : G_HC","step":10,"irf":0.002,"lo":-0.014,"hi":0.018},
{"panel":"G_CLEAN : G_ENVREG","step":0,"irf":-0.6,"lo":-1.1,"hi":-0.2},
{"panel":"G_CLEAN : G_ENVREG","step":1,"irf":0.0,"lo":-0.5,"hi":0.55},
{"panel":"G_CLEAN : G_ENVREG","step":2,"irf":0.2,"lo":-0.3,"hi":0.75},
{"panel":"G_CLEAN : G_ENVREG","step":3,"irf":-0.05,"lo":-0.55,"hi":0.5},
{"panel":"G_CLEAN : G_ENVREG","step":4,"irf":0.3,"lo":-0.1,"hi":0.75},
{"panel":"G_CLEAN : G_ENVREG","step":5,"irf":0.1,"lo":-0.25,"hi":0.55},
{"panel":"G_CLEAN : G_ENVREG","step":6,"irf":0.2,"lo":-0.1,"hi":0.55},
{"panel":"G_CLEAN : G_ENVREG","step":7,"irf":0.0,"lo":-0.25,"hi":0.3},
{"panel":"G_CLEAN : G_ENVREG","step":8,"irf":0.0,"lo":-0.2,"hi":0.25},
{"panel":"G_CLEAN : G_ENVREG","step":9,"irf":0.0,"lo":-0.2,"hi":0.2},
{"panel":"G_CLEAN : G_ENVREG","step":10,"irf":0.0,"lo":-0.2,"hi":0.2},
{"panel":"G_CLEAN : G_SP","step":0,"irf":1.0,"lo":-0.5,"hi":2.5},
{"panel":"G_CLEAN : G_SP","step":1,"irf":0.8,"lo":-0.6,"hi":2.2},
{"panel":"G_CLEAN : G_SP","step":2,"irf":0.5,"lo":-0.8,"hi":1.8},
{"panel":"G_CLEAN : G_SP","step":3,"irf":-1.0,"lo":-2.5,"hi":0.5},
{"panel":"G_CLEAN : G_SP","step":4,"irf":0.0,"lo":-1.0,"hi":1.0},
{"panel":"G_CLEAN : G_SP","step":5,"irf":-0.8,"lo":-1.8,"hi":0.2},
{"panel":"G_CLEAN : G_SP","step":6,"irf":-0.4,"lo":-1.2,"hi":0.5},
{"panel":"G_CLEAN : G_SP","step":7,"irf":-0.1,"lo":-0.8,"hi":0.5},
{"panel":"G_CLEAN : G_SP","step":8,"irf":-0.3,"lo":-0.9,"hi":0.3},
{"panel":"G_CLEAN : G_SP","step":9,"irf":-0.2,"lo":-0.7,"hi":0.3},
{"panel":"G_CLEAN : G_SP","step":10,"irf":-0.1,"lo":-0.5,"hi":0.3},
{"panel":"G_CLEAN : G_CLEAN","step":0,"irf":8.5,"lo":8.2,"hi":8.8},
{"panel":"G_CLEAN : G_CLEAN","step":1,"irf":-0.8,"lo":-1.6,"hi":0.0},
{"panel":"G_CLEAN : G_CLEAN","step":2,"irf":0.8,"lo":-0.2,"hi":1.8},
{"panel":"G_CLEAN : G_CLEAN","step":3,"irf":1.0,"lo":0.0,"hi":2.0},
{"panel":"G_CLEAN : G_CLEAN","step":4,"irf":0.0,"lo":-0.6,"hi":0.6},
{"panel":"G_CLEAN : G_CLEAN","step":5,"irf":0.2,"lo":-0.2,"hi":0.6},
{"panel":"G_CLEAN : G_CLEAN","step":6,"irf":0.1,"lo":-0.2,"hi":0.4},
{"panel":"G_CLEAN : G_CLEAN","step":7,"irf":0.0,"lo":-0.2,"hi":0.3},
{"panel":"G_CLEAN : G_CLEAN","step":8,"irf":0.0,"lo":-0.15,"hi":0.2},
{"panel":"G_CLEAN : G_CLEAN","step":9,"irf":0.0,"lo":-0.1,"hi":0.15},
{"panel":"G_CLEAN : G_CLEAN","step":10,"irf":0.0,"lo":-0.1,"hi":0.1}
]},
"facet": {
  "field": "panel", "type": "nominal",
  "sort": ["G_GDP : G_GDP","G_GDP : G_CO2","G_GDP : G_PATENT","G_GDP : G_HC","G_GDP : G_ENVREG","G_GDP : G_SP","G_GDP : G_CLEAN",
           "G_CO2 : G_GDP","G_CO2 : G_CO2","G_CO2 : G_PATENT","G_CO2 : G_HC","G_CO2 : G_ENVREG","G_CO2 : G_SP","G_CO2 : G_CLEAN",
           "G_PATENT : G_GDP","G_PATENT : G_CO2","G_PATENT : G_PATENT","G_PATENT : G_HC","G_PATENT : G_ENVREG","G_PATENT : G_SP","G_PATENT : G_CLEAN",
           "G_HC : G_GDP","G_HC : G_CO2","G_HC : G_PATENT","G_HC : G_HC","G_HC : G_ENVREG","G_HC : G_SP","G_HC : G_CLEAN",
           "G_ENVREG : G_GDP","G_ENVREG : G_CO2","G_ENVREG : G_PATENT","G_ENVREG : G_HC","G_ENVREG : G_ENVREG","G_ENVREG : G_SP","G_ENVREG : G_CLEAN",
           "G_SP : G_GDP","G_SP : G_CO2","G_SP : G_PATENT","G_SP : G_HC","G_SP : G_ENVREG","G_SP : G_SP","G_SP : G_CLEAN",
           "G_CLEAN : G_GDP","G_CLEAN : G_CO2","G_CLEAN : G_PATENT","G_CLEAN : G_HC","G_CLEAN : G_ENVREG","G_CLEAN : G_SP","G_CLEAN : G_CLEAN"],
  "header": {
    "title": "step", "titleOrient": "bottom", "titleFont": "Liberation Serif", "titleFontSize": 33,
    "titleFontWeight": "normal", "titleColor": "#000", "titlePadding": 9,
    "labelFont": "Liberation Serif", "labelFontSize": 10.5, "labelColor": "#000", "labelPadding": 3
  }
},
"columns": 7,
"spacing": {"row": 31, "column": 52},
"resolve": {"scale": {"y": "independent"}},
"spec": {
  "width": 118,
  "height": 67,
  "layer": [
    {
      "mark": {"type": "area", "opacity": 1},
      "encoding": {
        "x": {"field": "step", "type": "quantitative", "scale": {"domain": [-0.55, 10.55], "nice": false},
              "axis": {"title": null, "values": [0, 5, 10], "format": "d", "grid": false, "tickSize": 4, "labelPadding": 5}},
        "y": {"field": "lo", "type": "quantitative", "scale": {"zero": false, "nice": false, "padding": 3},
              "axis": {"title": null}},
        "y2": {"field": "hi"},
        "color": {
          "datum": "95% CI", "type": "nominal",
          "scale": {"domain": ["95% CI", "Orthogonalized IRF"], "range": ["#a9a9a9", "#1f2a5c"]},
          "legend": {
            "orient": "none", "legendX": 163, "legendY": 724, "direction": "horizontal", "title": null,
            "fillColor": "#ffffff", "strokeColor": "#555555", "padding": 10,
            "labelFont": "Liberation Serif", "labelFontSize": 35, "labelColor": "#000", "labelLimit": 600,
            "symbolSize": 900, "labelOffset": 110, "columnPadding": 58,
            "symbolType": "M-1,-1H7.53V1H-1Z",
            "encoding": {
              "symbols": {
                "shape": {"value": {"expr": "datum.value == '95% CI' ? 'M-1,-1H7.53V1H-1Z' : 'M-1,0H7.53'"}},
                "fill": {"value": {"expr": "datum.value == '95% CI' ? '#a9a9a9' : 'transparent'"}},
                "stroke": {"value": {"expr": "datum.value == '95% CI' ? '#8a8a8a' : '#1f2a5c'"}},
                "strokeWidth": {"value": 1.5},
                "opacity": {"value": 1}
              }
            }
          }
        }
      }
    },
    {
      "mark": {"type": "line", "strokeWidth": 1},
      "encoding": {
        "x": {"field": "step", "type": "quantitative"},
        "y": {"field": "irf", "type": "quantitative"},
        "color": {"datum": "Orthogonalized IRF", "type": "nominal"}
      }
    }
  ]
},
"title": {
  "text": "impulse : response", "orient": "bottom", "anchor": "start", "dx": -39,
  "font": "Liberation Serif", "fontSize": 27, "fontWeight": "normal", "color": "#000", "offset": 24
},
"config": {
  "font": "Liberation Serif",
  "view": {"fill": "white", "stroke": null},
  "axis": {
    "labelFont": "Liberation Serif", "labelFontSize": 9.5, "labelColor": "#000",
    "domainColor": "#000", "tickColor": "#000", "tickSize": 3, "labelPadding": 2
  },
  "axisY": {
    "tickCount": 3, "format": "~f",
    "labelExpr": "replace(replace(datum.label, '−', '-'), regexp('^(-?)0[.]'), '$1.')",
    "grid": true, "gridColor": "#e2ebef", "gridWidth": 1
  }
}
}
